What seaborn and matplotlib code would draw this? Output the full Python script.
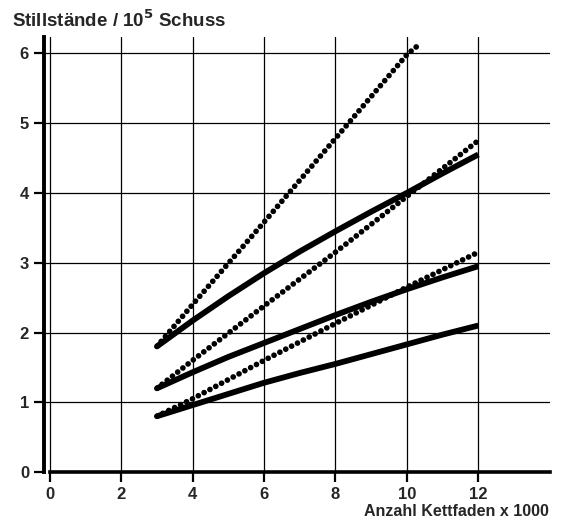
import pandas as pd
import matplotlib
matplotlib.use("Agg")
import matplotlib.pyplot as plt
import seaborn as sns

# data
kettfaden = [3, 4, 5, 6, 7, 8, 9, 10, 11, 12]

# solid curves
solid_oben = [1.8, 2.17, 2.52, 2.85, 3.16, 3.45, 3.73, 4.0, 4.28, 4.55]
solid_mitte = [1.2, 1.43, 1.65, 1.85, 2.05, 2.25, 2.44, 2.62, 2.79, 2.95]
solid_unten = [0.8, 0.96, 1.12, 1.28, 1.42, 1.55, 1.69, 1.83, 1.97, 2.1]

# dotted curves
dot_steil_x = [3, 4, 6, 8, 10, 10.4]
dot_steil = [1.8, 2.4, 3.58, 4.78, 5.98, 6.15]
dot_x = [3, 4, 6, 8, 10, 12]
dot_mitte = [1.2, 1.6, 2.38, 3.15, 3.95, 4.75]
dot_unten = [0.8, 1.05, 1.6, 2.13, 2.65, 3.15]

xticks = [0, 2, 4, 6, 8, 10, 12]
yticks = [0, 1, 2, 3, 4, 5, 6]

sns.set_style("white")
plt.rcParams['font.family'] = ['Liberation Sans', 'DejaVu Sans']
plt.rcParams['font.weight'] = 'bold'
plt.rcParams['mathtext.default'] = 'bf'

fig = plt.figure(figsize=(5.61, 5.24), dpi=100)
ax = fig.add_axes([0.079, 0.099, 0.901, 0.83])

# grid
for xt in xticks:
    ax.axvline(xt, color="black", lw=0.9, zorder=1)
for yt in yticks[1:]:
    ax.axhline(yt, color="black", lw=0.9, zorder=1)

for ys in [solid_oben, solid_mitte, solid_unten]:
    df = pd.DataFrame({"x": kettfaden, "y": ys})
    sns.lineplot(data=df, x="x", y="y", ax=ax, color="black", lw=4.2,
                 solid_capstyle="butt", zorder=3)

for xs, ys in [(dot_steil_x, dot_steil), (dot_x, dot_mitte), (dot_x, dot_unten)]:
    df = pd.DataFrame({"x": xs, "y": ys})
    line = sns.lineplot(data=df, x="x", y="y", ax=ax, color="black", lw=4.1,
                        zorder=4).lines[-1]
    line.set_linestyle((0, (0.01, 1.15)))
    line.set_dash_capstyle("round")

ax.set_xlim(-0.15, 14.0)
ax.set_ylim(0, 6.23)
ax.set_xticks(xticks)
ax.set_yticks(yticks)
ax.tick_params(axis="both", direction="out", length=7, width=1.6,
               labelsize=12, color="black", bottom=True, left=True, pad=4)
for lab in ax.get_xticklabels() + ax.get_yticklabels():
    lab.set_fontweight("bold")

for s in ["top", "right"]:
    ax.spines[s].set_visible(False)
ax.spines["left"].set_linewidth(2.8)
ax.spines["bottom"].set_linewidth(2.6)
ax.spines["left"].set_color("black")
ax.spines["bottom"].set_color("black")
ax.spines["left"].set_bounds(0, 6.23)
ax.spines["bottom"].set_bounds(0, 14.0)
ax.spines["bottom"].set_zorder(5)

ax.set_xlabel("")
ax.set_ylabel("")
fig.text(0.022, 0.962, "Stillstände / 10$^5$ Schuss", fontsize=13.5,
         fontweight="bold", ha="left", va="center")
fig.text(0.978, 0.024, "Anzahl Kettfaden x 1000", fontsize=11.5,
         fontweight="bold", ha="right", va="center")

plt.savefig("out.png", dpi=100)
